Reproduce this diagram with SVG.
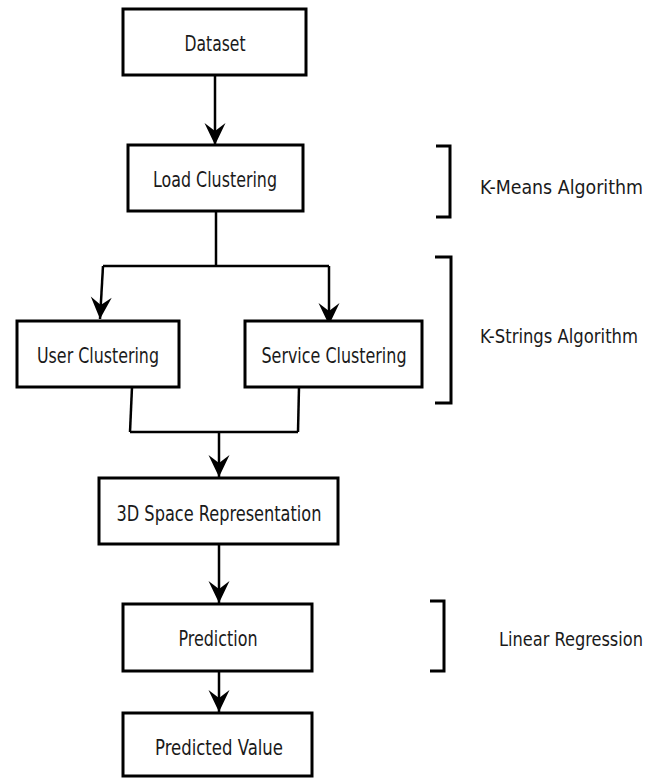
<svg xmlns="http://www.w3.org/2000/svg" width="654" height="778" viewBox="0 0 654 778">
<style>
.box{fill:#fff;stroke:#000;stroke-width:3}
.t{font-family:"DejaVu Sans Condensed","DejaVu Sans",sans-serif;font-size:21px;fill:#1a1a1a;text-anchor:middle}
.l{font-family:"DejaVu Sans Condensed","DejaVu Sans",sans-serif;font-size:19px;fill:#1a1a1a}
.c{fill:none;stroke:#000;stroke-width:2.5}
.br{fill:none;stroke:#000;stroke-width:3}
</style>
<defs>
<marker id="ah" markerUnits="userSpaceOnUse" markerWidth="26" markerHeight="24" viewBox="-24 -12 26 24" refX="0" refY="0" orient="auto">
<path d="M0,0 L-22,-10.5 L-14,0 L-22,10.5 Z" fill="#000"/>
</marker>
</defs>
<g id="connectors">
<line class="c" x1="215" y1="75" x2="215" y2="145" marker-end="url(#ah)"/>
<line class="c" x1="216" y1="211" x2="216" y2="266"/>
<line class="c" x1="103" y1="266" x2="329" y2="266"/>
<line class="c" x1="103" y1="266" x2="100" y2="319" marker-end="url(#ah)"/>
<line class="c" x1="329" y1="266" x2="329" y2="325" marker-end="url(#ah)"/>
<line class="c" x1="132" y1="387" x2="130" y2="432"/>
<line class="c" x1="299" y1="387" x2="298" y2="432"/>
<line class="c" x1="130" y1="432" x2="298" y2="432"/>
<line class="c" x1="219" y1="432" x2="219" y2="477" marker-end="url(#ah)"/>
<line class="c" x1="219" y1="544" x2="219" y2="603" marker-end="url(#ah)"/>
<line class="c" x1="219" y1="671" x2="219" y2="712" marker-end="url(#ah)"/>
</g>
<g id="dataset">
<rect class="box" x="123" y="9" width="183" height="66"/>
<text class="t" x="215" y="51" textLength="61" lengthAdjust="spacingAndGlyphs">Dataset</text>
</g>
<g id="load-clustering">
<rect class="box" x="128" y="145" width="175" height="66"/>
<text class="t" x="215" y="187" textLength="124" lengthAdjust="spacingAndGlyphs">Load Clustering</text>
</g>
<g id="user-clustering">
<rect class="box" x="17" y="321" width="162" height="66"/>
<text class="t" x="98" y="363" textLength="122" lengthAdjust="spacingAndGlyphs">User Clustering</text>
</g>
<g id="service-clustering">
<rect class="box" x="245" y="321" width="177" height="66"/>
<text class="t" x="334" y="363" textLength="145" lengthAdjust="spacingAndGlyphs">Service Clustering</text>
</g>
<g id="space-representation">
<rect class="box" x="99" y="478" width="239" height="66"/>
<text class="t" x="219" y="521" textLength="205" lengthAdjust="spacingAndGlyphs">3D Space Representation</text>
</g>
<g id="prediction">
<rect class="box" x="123" y="604" width="189" height="67"/>
<text class="t" x="218" y="646" textLength="79" lengthAdjust="spacingAndGlyphs">Prediction</text>
</g>
<g id="predicted-value">
<rect class="box" x="123" y="713" width="189" height="63"/>
<text class="t" x="219" y="755" textLength="128" lengthAdjust="spacingAndGlyphs">Predicted Value</text>
</g>
<g id="k-means">
<path class="br" d="M436,146 H450 V217 H436"/>
<text class="l" x="480" y="194" textLength="163" lengthAdjust="spacingAndGlyphs">K-Means Algorithm</text>
</g>
<g id="k-strings">
<path class="br" d="M435,257 H451 V403 H435"/>
<text class="l" x="480" y="343" textLength="158" lengthAdjust="spacingAndGlyphs">K-Strings Algorithm</text>
</g>
<g id="linear-regression">
<path class="br" d="M430,601 H444 V671 H430"/>
<text class="l" x="499" y="646" textLength="144" lengthAdjust="spacingAndGlyphs">Linear Regression</text>
</g>
</svg>
